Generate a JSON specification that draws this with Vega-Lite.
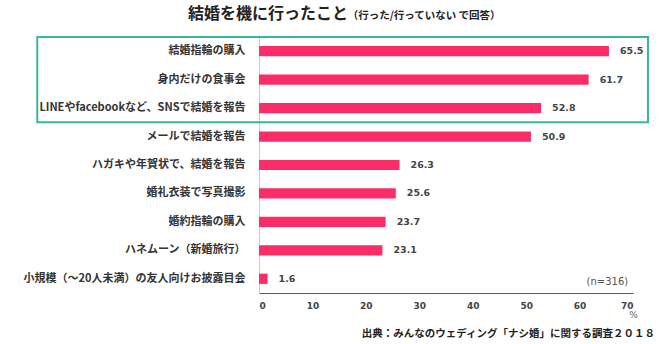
{
  "$schema": "https://vega.github.io/schema/vega-lite/v6.json",
  "autosize": "none",
  "width": 374,
  "height": 256,
  "padding": {"left": 259, "top": 37, "right": 27, "bottom": 51},
  "background": "white",
  "config": {"view": {"stroke": null}},
  "data": {"values": [
    {"item": "結婚指輪の購入", "value": 65.5},
    {"item": "身内だけの食事会", "value": 61.7},
    {"item": "LINEやfacebookなど、SNSで結婚を報告", "value": 52.8},
    {"item": "メールで結婚を報告", "value": 50.9},
    {"item": "ハガキや年賀状で、結婚を報告", "value": 26.3},
    {"item": "婚礼衣装で写真撮影", "value": 25.6},
    {"item": "婚約指輪の購入", "value": 23.7},
    {"item": "ハネムーン（新婚旅行）", "value": 23.1},
    {"item": "小規模（～20人未満）の友人向けお披露目会", "value": 1.6}
  ]},
  "encoding": {
    "y": {
      "field": "item", "type": "nominal", "sort": null,
      "scale": {"paddingInner": 0, "paddingOuter": 0},
      "axis": {
        "title": null, "ticks": false, "domainColor": "#cccccc", "domainWidth": 1,
        "labelFont": "Noto Sans CJK JP", "labelFontWeight": "bold", "labelFontSize": 11,
        "labelColor": "#333333", "labelPadding": 14, "labelLimit": 300
      }
    }
  },
  "layer": [
    {
      "mark": {"type": "bar", "color": "#fb2d68", "height": {"band": 0.36}},
      "encoding": {
        "x": {
          "field": "value", "type": "quantitative",
          "scale": {"domain": [0, 70]},
          "axis": {
            "values": [0, 10, 20, 30, 40, 50, 60, 70], "grid": false, "ticks": false,
            "domainColor": "#555555", "domainWidth": 1.2,
            "labelFont": "DejaVu Sans", "labelFontWeight": "bold", "labelFontSize": 9,
            "labelColor": "#444444", "labelPadding": 8,
            "title": "%", "titleFont": "DejaVu Sans", "titleFontWeight": "normal",
            "titleFontSize": 9, "titleColor": "#666666", "titleAnchor": "end",
            "titleAlign": "center", "titleBaseline": "middle", "titleY": 21
          }
        }
      }
    },
    {
      "mark": {"type": "text", "align": "left", "baseline": "middle", "dx": 11,
               "font": "DejaVu Sans", "fontWeight": "bold", "fontSize": 9.5, "color": "#444444"},
      "encoding": {
        "x": {"field": "value", "type": "quantitative"},
        "text": {"field": "value", "type": "quantitative", "format": ".1f"}
      }
    },
    {
      "data": {"values": [{"from": "結婚指輪の購入", "to": "LINEやfacebookなど、SNSで結婚を報告"}]},
      "mark": {"type": "rect", "fill": null, "stroke": "#36b898", "strokeWidth": 2},
      "encoding": {
        "x": {"datum": -41.5, "type": "quantitative"},
        "x2": {"datum": 72.8},
        "y": {"field": "from", "type": "nominal", "bandPosition": 0},
        "y2": {"field": "to", "bandPosition": 1}
      }
    },
    {
      "data": {"values": [{"t": "結婚を機に行ったこと"}]},
      "mark": {"type": "text", "align": "left", "baseline": "middle", "dy": -37,
               "font": "Noto Sans CJK JP", "fontWeight": "bold", "fontSize": 16, "color": "#222222"},
      "encoding": {
        "x": {"datum": -13.3, "type": "quantitative"},
        "y": {"datum": "結婚指輪の購入", "type": "nominal"},
        "text": {"field": "t"}
      }
    },
    {
      "data": {"values": [{"t": "（行った/行っていない で回答）"}]},
      "mark": {"type": "text", "align": "left", "baseline": "middle", "dy": -35,
               "font": "Noto Sans CJK JP", "fontWeight": "bold", "fontSize": 10.5, "color": "#222222"},
      "encoding": {
        "x": {"datum": 16.6, "type": "quantitative"},
        "y": {"datum": "結婚指輪の購入", "type": "nominal"},
        "text": {"field": "t"}
      }
    },
    {
      "data": {"values": [{"t": "(n=316)"}]},
      "mark": {"type": "text", "align": "right", "baseline": "middle", "dy": 3,
               "font": "DejaVu Sans", "fontSize": 10, "color": "#555555"},
      "encoding": {
        "x": {"datum": 69.1, "type": "quantitative"},
        "y": {"datum": "小規模（～20人未満）の友人向けお披露目会", "type": "nominal"},
        "text": {"field": "t"}
      }
    },
    {
      "data": {"values": [{"t": "出典：みんなのウェディング「ナシ婚」に関する調査２０１８"}]},
      "mark": {"type": "text", "align": "right", "baseline": "middle", "dy": 55,
               "font": "Noto Sans CJK JP", "fontWeight": "bold", "fontSize": 10.5, "color": "#222222"},
      "encoding": {
        "x": {"datum": 74.1, "type": "quantitative"},
        "y": {"datum": "小規模（～20人未満）の友人向けお披露目会", "type": "nominal"},
        "text": {"field": "t"}
      }
    }
  ]
}
